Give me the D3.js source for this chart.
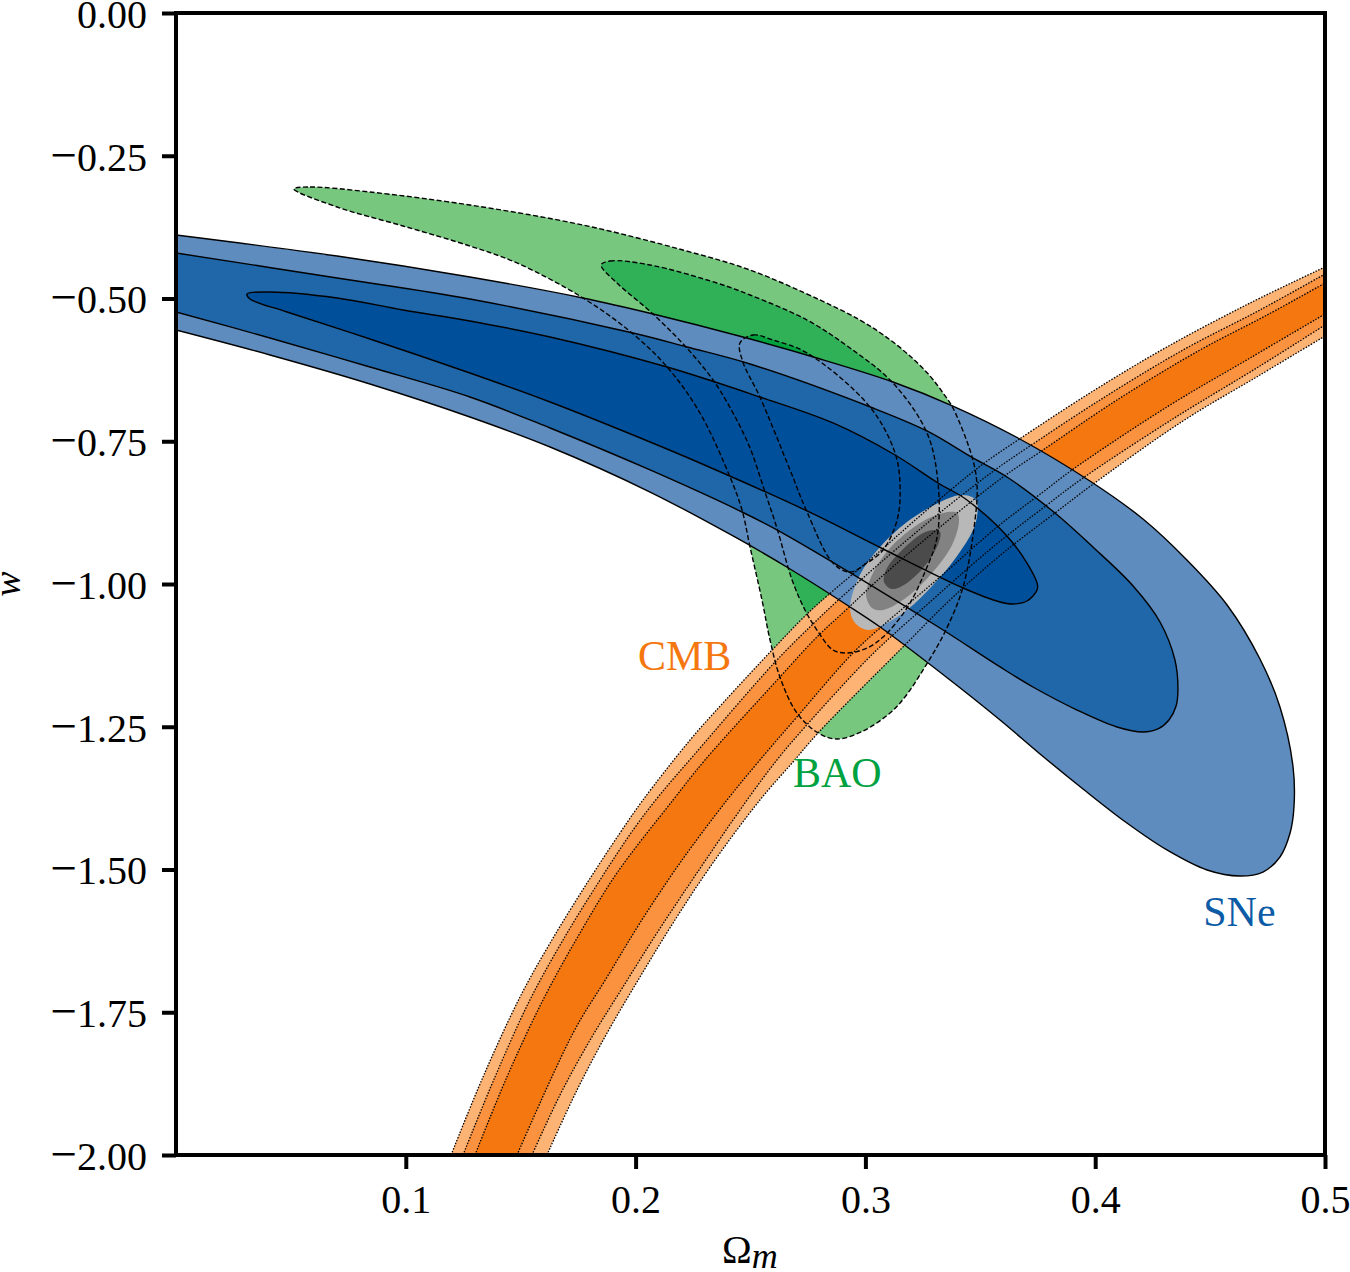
<!DOCTYPE html>
<html>
<head>
<meta charset="utf-8">
<script src="https://cdn.jsdelivr.net/npm/d3@7"></script>
<style>
  html, body { margin: 0; background: #fff; }
  svg { display: block; }
  text { font-family: "Liberation Serif", serif; fill: #000; }
</style>
</head>
<body>
<div id="chart"></div>
<script>
const xTicks = [0.1, 0.2, 0.3, 0.4, 0.5];
const yTicks = [0, -0.25, -0.5, -0.75, -1, -1.25, -1.5, -1.75, -2];

// SNe contours [Omega_m, w], outer to inner
const sne3 = [[0,-0.3888],[0.0701,-0.4256],[0.1279,-0.4623],[0.1771,-0.4991],[0.2076,-0.5271],[0.2467,-0.5674],[0.2789,-0.6042],[0.312,-0.6462],[0.3381,-0.6883],[0.3664,-0.7443],[0.3977,-0.8196],[0.4208,-0.8862],[0.4399,-0.958],[0.4574,-1.0368],[0.4717,-1.1313],[0.4804,-1.2154],[0.4861,-1.3205],[0.4865,-1.3905],[0.4848,-1.4361],[0.4804,-1.4781],[0.473,-1.5044],[0.463,-1.5114],[0.4487,-1.5009],[0.4312,-1.4658],[0.4138,-1.4186],[0.3947,-1.359],[0.376,-1.2977],[0.3586,-1.2382],[0.3346,-1.1611],[0.3064,-1.0753],[0.292,-1.0368],[0.2672,-0.9737],[0.2424,-0.9159],[0.2063,-0.8389],[0.1628,-0.7601],[0.1279,-0.7075],[0.0844,-0.6497],[0.0409,-0.5989],[0,-0.5552]];
const sne2 = [[0,-0.4203],[0.0701,-0.4641],[0.1279,-0.5009],[0.1989,-0.5604],[0.2224,-0.5849],[0.2498,-0.6147],[0.3033,-0.6918],[0.3268,-0.732],[0.3468,-0.7793],[0.3616,-0.8126],[0.3825,-0.8757],[0.399,-0.9352],[0.4165,-1.0035],[0.4282,-1.0665],[0.4347,-1.1331],[0.436,-1.1856],[0.4352,-1.2136],[0.4321,-1.2382],[0.4273,-1.2539],[0.4208,-1.2592],[0.4095,-1.2504],[0.3921,-1.2207],[0.3729,-1.1804],[0.3586,-1.1453],[0.3338,-1.0806],[0.3007,-0.9982],[0.2615,-0.9054],[0.2463,-0.8739],[0.2063,-0.8003],[0.1628,-0.7268],[0.1279,-0.6725],[0.0844,-0.62],[0.0409,-0.5692],[0,-0.5236]];
const sne1 = [[0.0309,-0.4921],[0.0409,-0.4886],[0.0701,-0.4991],[0.0988,-0.5201],[0.1279,-0.5394],[0.1628,-0.5674],[0.2137,-0.62],[0.2541,-0.6725],[0.2859,-0.718],[0.3129,-0.7741],[0.3316,-0.8231],[0.3442,-0.8529],[0.3642,-0.9282],[0.3747,-0.9982],[0.3747,-1.0105],[0.3703,-1.0298],[0.3642,-1.035],[0.3586,-1.0315],[0.3425,-1.007],[0.3077,-0.9387],[0.2746,-0.8721],[0.228,-0.7881],[0.2063,-0.7513],[0.1628,-0.6813],[0.1279,-0.6305],[0.0844,-0.5709],[0.0483,-0.5236],[0.0322,-0.5009]];

// BAO contours
const bao3 = [[0.0513,-0.3082],[0.0583,-0.3047],[0.0844,-0.3135],[0.1279,-0.3363],[0.1771,-0.3713],[0.2206,-0.4151],[0.2498,-0.4501],[0.2802,-0.5026],[0.2976,-0.5377],[0.3085,-0.5657],[0.3194,-0.6007],[0.3281,-0.6357],[0.3338,-0.6655],[0.3381,-0.6918],[0.3468,-0.7828],[0.3486,-0.8301],[0.3477,-0.8879],[0.3425,-1.0052],[0.3346,-1.0841],[0.3259,-1.1453],[0.3172,-1.1979],[0.3107,-1.2259],[0.299,-1.2574],[0.2876,-1.2714],[0.2794,-1.2609],[0.2702,-1.2259],[0.2628,-1.1629],[0.2585,-1.0981],[0.255,-1.028],[0.2498,-0.9352],[0.2463,-0.8704],[0.2411,-0.8126],[0.228,-0.7005],[0.2141,-0.6217],[0.1984,-0.5604],[0.1771,-0.4991],[0.1484,-0.4378],[0.1279,-0.4081],[0.0988,-0.373],[0.0701,-0.3398]];
const bao2 = [[0.185,-0.4413],[0.1889,-0.4343],[0.2063,-0.4413],[0.2354,-0.4729],[0.2498,-0.4939],[0.2746,-0.5377],[0.2933,-0.5867],[0.312,-0.648],[0.3268,-0.7355],[0.3316,-0.8231],[0.3312,-0.9177],[0.3259,-0.979],[0.3181,-1.042],[0.3077,-1.0928],[0.3007,-1.1121],[0.2924,-1.1208],[0.2859,-1.1156],[0.2789,-1.0806],[0.2737,-1.0455],[0.2681,-0.993],[0.2615,-0.9019],[0.2563,-0.8389],[0.2498,-0.7618],[0.2424,-0.7005],[0.2337,-0.6427],[0.2215,-0.5832],[0.2071,-0.5254],[0.1919,-0.4729]];
const bao1 = [[0.2454,-0.5779],[0.2511,-0.5639],[0.2598,-0.5727],[0.2746,-0.5954],[0.302,-0.69],[0.3129,-0.7706],[0.3151,-0.8301],[0.3138,-0.8879],[0.3077,-0.9405],[0.3007,-0.9632],[0.2933,-0.979],[0.2859,-0.9632],[0.2746,-0.8739],[0.2672,-0.8003],[0.2541,-0.6725],[0.2467,-0.6112]];

// CMB band edges, left side of the band first
const cmb3Upper = [[0.1197,-2],[0.1336,-1.8634],[0.1497,-1.7233],[0.1628,-1.6287],[0.1789,-1.5236],[0.1932,-1.4361],[0.2032,-1.3783],[0.2237,-1.2732],[0.238,-1.2084],[0.2594,-1.1156],[0.2746,-1.0525],[0.2833,-1.021],[0.3064,-0.9422],[0.3207,-0.8914],[0.3381,-0.8319],[0.3512,-0.7898],[0.3664,-0.7478],[0.3977,-0.6655],[0.4312,-0.5849],[0.4674,-0.5079],[0.5,-0.4448]];
const cmb2Upper = [[0.1249,-2],[0.1388,-1.8634],[0.154,-1.7285],[0.1684,-1.6235],[0.1845,-1.5184],[0.1989,-1.4308],[0.2098,-1.373],[0.2254,-1.2995],[0.2607,-1.1366],[0.2772,-1.07],[0.2868,-1.0333],[0.3064,-0.9632],[0.3355,-0.8651],[0.3564,-0.8003],[0.3703,-0.7618],[0.4021,-0.6777],[0.4382,-0.5902],[0.4717,-0.5201],[0.5,-0.4571]];
const cmb1Upper = [[0.1301,-2],[0.144,-1.8634],[0.1597,-1.7285],[0.1758,-1.6112],[0.1919,-1.5061],[0.2163,-1.3783],[0.2302,-1.3082],[0.2628,-1.1629],[0.2789,-1.0928],[0.292,-1.0438],[0.3064,-0.9895],[0.3325,-0.9002],[0.3599,-0.8126],[0.376,-0.7688],[0.4095,-0.6777],[0.4456,-0.5902],[0.4748,-0.5289],[0.5,-0.4729]];
const cmb1Lower = [[0.1484,-2],[0.1728,-1.7863],[0.1876,-1.6883],[0.2019,-1.5937],[0.2193,-1.4886],[0.2398,-1.3783],[0.2541,-1.3082],[0.2702,-1.2329],[0.2946,-1.1208],[0.3094,-1.0665],[0.3207,-1.028],[0.3325,-0.9877],[0.3573,-0.9002],[0.3773,-0.8389],[0.3899,-0.8003],[0.4312,-0.69],[0.4674,-0.6042],[0.5,-0.5271]];
const cmb2Lower = [[0.1549,-2],[0.1671,-1.8949],[0.1802,-1.7986],[0.1945,-1.7058],[0.2093,-1.6112],[0.2267,-1.5061],[0.2476,-1.3835],[0.2615,-1.3082],[0.2737,-1.2504],[0.2976,-1.1453],[0.3077,-1.1051],[0.3325,-1.0158],[0.3555,-0.9352],[0.379,-0.8616],[0.3947,-0.8144],[0.4338,-0.711],[0.4717,-0.6182],[0.5,-0.5464]];
const cmb3Lower = [[0.1614,-2],[0.1745,-1.8862],[0.1876,-1.7863],[0.2019,-1.6883],[0.2163,-1.5937],[0.2324,-1.4956],[0.2541,-1.3783],[0.2685,-1.3117],[0.2794,-1.2609],[0.3159,-1.1121],[0.3377,-1.0245],[0.3599,-0.9457],[0.3825,-0.8757],[0.3986,-0.8266],[0.4382,-0.7145],[0.4717,-0.634],[0.5,-0.5657]];

// combined constraints
const all3 = [[0.3464,-0.8476],[0.3412,-0.8441],[0.3325,-0.8564],[0.3181,-0.8914],[0.3064,-0.9352],[0.2976,-0.9842],[0.2933,-1.042],[0.2955,-1.0683],[0.3011,-1.0806],[0.3077,-1.0718],[0.3181,-1.0455],[0.3294,-1.0018],[0.3399,-0.951],[0.3477,-0.8967],[0.3486,-0.8581]];
const all2 = [[0.3399,-0.8757],[0.3338,-0.8757],[0.3238,-0.8932],[0.3107,-0.9369],[0.3029,-0.9842],[0.3003,-1.0193],[0.3029,-1.042],[0.3077,-1.0455],[0.3181,-1.0228],[0.3294,-0.979],[0.3377,-0.9317],[0.3407,-0.8914]];
const all1 = [[0.3303,-0.9054],[0.3251,-0.9107],[0.3151,-0.944],[0.3094,-0.972],[0.3081,-0.9965],[0.3116,-1.0088],[0.3181,-0.9982],[0.3272,-0.9615],[0.332,-0.9265],[0.3325,-0.9089]];

const width = 1350, height = 1272;
const margin = {top: 13, right: 25, bottom: 117, left: 176};

const svg = d3.select("#chart").append("svg")
    .attr("width", width)
    .attr("height", height);

const x = d3.scaleLinear().domain([0, 0.5]).range([margin.left, width - margin.right]);
const y = d3.scaleLinear().domain([-2, 0]).range([height - margin.bottom, margin.top]);

svg.append("clipPath").attr("id", "plot")
  .append("rect")
    .attr("x", x(0)).attr("y", y(0))
    .attr("width", x(0.5) - x(0)).attr("height", y(-2) - y(0));

const open = d3.line().x(d => x(d[0])).y(d => y(d[1])).curve(d3.curveCatmullRom);
const closed = d3.line().x(d => x(d[0])).y(d => y(d[1])).curve(d3.curveCatmullRomClosed);
const band = (a, b) => open(a) + "L" + open(b.slice().reverse()).slice(1) + "Z";

const g = svg.append("g").attr("clip-path", "url(#plot)");

// fills go back to front, outlines all sit on top of them
const fill = (d, c) => g.append("path").attr("d", d).attr("fill", c);

fill(closed(bao3), "#77c77f");
fill(closed(bao2), "#31b157");
fill(closed(bao1), "#00a13f");

fill(band(cmb3Upper, cmb3Lower), "#fdb373");
fill(band(cmb2Upper, cmb2Lower), "#fa923f");
fill(band(cmb1Upper, cmb1Lower), "#f5770f");

fill(open(sne3), "#5e8cbe");
fill(open(sne2), "#1f67a8");
fill(closed(sne1), "#004f9a");

fill(closed(all3), "#b8b8b8");
fill(closed(all2), "#828282");
fill(closed(all1), "#4b4b4b");

const stroke = (d, dash, w) => g.append("path")
    .attr("d", d)
    .attr("fill", "none")
    .attr("stroke", "#000")
    .attr("stroke-width", w)
    .attr("stroke-dasharray", dash);

[cmb3Upper, cmb2Upper, cmb1Upper, cmb1Lower, cmb2Lower, cmb3Lower].forEach(c => stroke(open(c), "1.5,1.5", 1.3));
[bao3, bao2, bao1].forEach(c => stroke(closed(c), "5,2.5", 1.4));
stroke(open(sne3), null, 1.4);
stroke(open(sne2), null, 1.4);
stroke(closed(sne1), null, 1.4);

// axes
const xAxis = d3.axisBottom(x).tickValues(xTicks).tickFormat(d3.format(".1f"))
    .tickSize(14).tickSizeOuter(0).tickPadding(15.5);
const yAxis = d3.axisLeft(y).tickValues(yTicks).tickFormat(d3.format(".2f"))
    .tickSize(14).tickSizeOuter(0).tickPadding(15);

const gx = svg.append("g").attr("transform", "translate(0," + y(-2) + ")").call(xAxis);
const gy = svg.append("g").attr("transform", "translate(" + x(0) + ",0)").call(yAxis);

[gx, gy].forEach(a => {
    a.select(".domain").remove();
    a.selectAll("line").attr("stroke", "#000").attr("stroke-width", 4);
    a.selectAll("text").attr("font-size", 40).attr("fill", "#000");
});

// the minus sign is wider in the original, give it a larger size
gy.selectAll("text").attr("dy", "0.36em").each(function() {
    const t = d3.select(this), s = t.text();
    if (s[0] === "\u2212") {
        t.text(null);
        t.append("tspan").attr("font-size", 47).text("\u2212");
        t.append("tspan").text(s.slice(1));
    }
});

svg.append("rect")
    .attr("x", x(0)).attr("y", y(0))
    .attr("width", x(0.5) - x(0)).attr("height", y(-2) - y(0))
    .attr("fill", "none")
    .attr("stroke", "#000")
    .attr("stroke-width", 4);

// axis titles
const xTitle = svg.append("text").attr("x", 722).attr("y", 1263).attr("font-size", 40);
xTitle.append("tspan").text("Ω");
xTitle.append("tspan").attr("font-style", "italic").attr("font-size", 36).attr("dy", 5).text("m");

svg.append("text")
    .attr("transform", "translate(20,584) rotate(-90)")
    .attr("text-anchor", "middle")
    .attr("font-size", 38)
    .attr("font-style", "italic")
    .text("w");

// contour labels
const label = (name, om, w, c) => svg.append("text")
    .attr("x", x(om)).attr("y", y(w))
    .attr("font-size", 42)
    .style("fill", c)
    .text(name);

label("CMB", 0.201, -1.151, "#f5770f");
label("BAO", 0.2685, -1.355, "#00a13f");
label("SNe", 0.447, -1.599, "#0b5ba6");
</script>
</body>
</html>
